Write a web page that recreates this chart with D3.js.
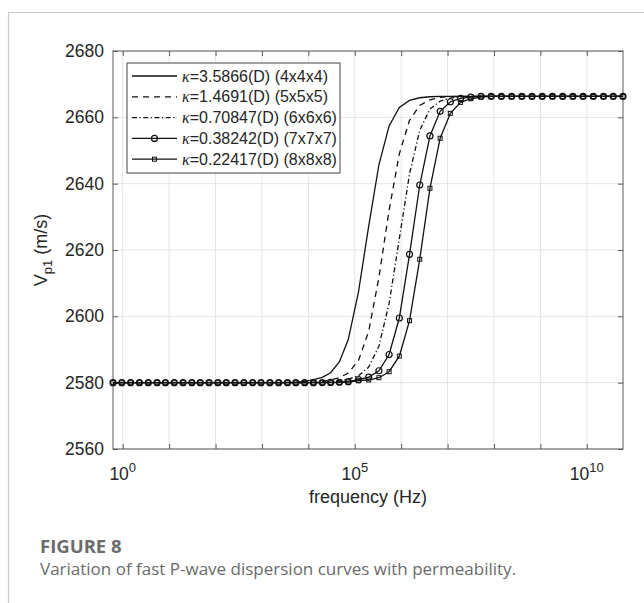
<!DOCTYPE html>
<html><head><meta charset="utf-8">
<script src="https://cdn.jsdelivr.net/npm/d3@7/dist/d3.min.js"></script>
<style>body{margin:0;background:#fff}svg{display:block}</style></head>
<body><svg id="c" width="644" height="603"></svg>
<script>
// ---- data (log10 of frequency in Hz) ----
const logFreq = [-0.21,-0.02,0.17,0.36,0.55,0.74,0.92,1.11,1.30,1.49,
  1.67,1.86,2.05,2.23,2.42,2.61,2.80,2.98,3.17,3.36,
  3.55,3.73,3.92,4.11,4.30,4.48,4.67,4.86,5.08,5.30,
  5.52,5.74,5.96,6.18,6.40,6.62,6.84,7.06,7.28,7.50,
  7.72,7.94,8.16,8.38,8.60,8.82,9.04,9.26,9.48,9.70,
  9.92,10.14,10.36,10.57,10.78];

const kappaLabels = ["3.5866(D) (4x4x4)","1.4691(D) (5x5x5)","0.70847(D) (6x6x6)","0.38242(D) (7x7x7)","0.22417(D) (8x8x8)"];

const vp_k1 = [2580,2580,2580,2580,2580,2580,2580,2580,2580,2580,
  2580,2580,2580,2580,2580,2580,2580,2580,2580,
  2580.03,2580.07,2580.15,2580.4,2580.9,2581.6,2583.0,2586.3,2593.0,2607.4,
  2627.2,2645.7,2657.4,2663.0,2665.1,2665.9,2666.2,
  2666.3,2666.3,2666.3,2666.3,2666.3,2666.3,2666.3,2666.3,2666.3,2666.3,
  2666.3,2666.3,2666.3,2666.3,2666.3,2666.3,2666.3,2666.3,2666.3];

const vp_k2 = [2580,2580,2580,2580,2580,2580,2580,2580,2580,2580,
  2580,2580,2580,2580,2580,2580,2580,2580,2580,2580,
  2580,
  2580.03,2580.07,2580.15,2580.35,2580.85,2581.5,2582.9,2586.7,2595.5,2611.7,
  2632.0,2649.0,2659.1,2663.6,2665.3,2666.0,2666.25,
  2666.3,2666.3,2666.3,2666.3,2666.3,2666.3,2666.3,2666.3,2666.3,2666.3,
  2666.3,2666.3,2666.3,2666.3,2666.3,2666.3,2666.3];

const vp_k3 = [2580,2580,2580,2580,2580,2580,2580,2580,2580,2580,
  2580,2580,2580,2580,2580,2580,2580,2580,2580,2580,
  2580,2580,2580,
  2580.04,2580.08,2580.2,2580.5,2581.1,2582.1,2584.7,2591.0,2603.9,2623.4,
  2643.0,2656.1,2662.5,2664.9,2665.8,2666.15,
  2666.3,2666.3,2666.3,2666.3,2666.3,2666.3,2666.3,2666.3,2666.3,2666.3,
  2666.3,2666.3,2666.3,2666.3,2666.3,2666.3];

const vp_k4 = [2580,2580,2580,2580,2580,2580,2580,2580,2580,2580,
  2580,2580,2580,2580,2580,2580,2580,2580,2580,2580,
  2580,2580,2580,2580,
  2580.02,2580.06,2580.12,2580.3,2580.9,2581.7,2583.6,2588.5,2599.5,2618.7,
  2639.6,2654.4,2661.8,2664.7,2665.7,2666.1,
  2666.3,2666.3,2666.3,2666.3,2666.3,2666.3,2666.3,2666.3,2666.3,2666.3,
  2666.3,2666.3,2666.3,2666.3,2666.3];

const vp_k5 = [2580,2580,2580,2580,2580,2580,2580,2580,2580,2580,
  2580,2580,2580,2580,2580,2580,2580,2580,2580,2580,
  2580,2580,2580,2580,2580,2580,
  2580.05,2580.2,2580.6,2580.8,2581.5,2583.3,2588.0,2598.7,2617.2,2638.6,
  2653.7,2661.2,2664.5,2665.6,2666.1,
  2666.3,2666.3,2666.3,2666.3,2666.3,2666.3,2666.3,2666.3,2666.3,2666.3,
  2666.3,2666.3,2666.3,2666.3];

const yTicks = [2560,2580,2600,2620,2640,2660,2680];
const xDecades = [0,1,2,3,4,5,6,7,8,9,10];
const xLabelDecades = [0,5,10];

// ---- styles per series ----
const seriesVals = [vp_k1, vp_k2, vp_k3, vp_k4, vp_k5];
const styles = [
  {dash:null, marker:null},
  {dash:"6,5", marker:null},
  {dash:"5,2.5,1.2,2.5", marker:null},
  {dash:null, marker:"circle"},
  {dash:null, marker:"square"}
];

const svg = d3.select("#c");
const axisColor = "#5a5a5a", textColor = "#262626", gridColor = "#e4e4e4";
const font = "'Liberation Sans', Arial, sans-serif";

// outer panel frame
svg.append("path").attr("d","M8.5,603 V12.5 H644").attr("fill","none").attr("stroke","#c8c8c8").attr("stroke-width",1.2);

const L=113, R=623, T=51, B=449;
const x = d3.scaleLog().domain([Math.pow(10,logFreq[0]), Math.pow(10,logFreq[logFreq.length-1])]).range([L,R]);
const y = d3.scaleLinear().domain([2560,2680]).range([B,T]);

// grid
const grid = svg.append("g");
grid.selectAll(".gx").data(xDecades).join("line")
  .attr("x1",d=>x(Math.pow(10,d))).attr("x2",d=>x(Math.pow(10,d)))
  .attr("y1",T).attr("y2",B).attr("stroke",gridColor).attr("stroke-width",1);
grid.selectAll(".gy").data(yTicks).join("line")
  .attr("x1",L).attr("x2",R).attr("y1",d=>y(d)).attr("y2",d=>y(d))
  .attr("stroke",gridColor).attr("stroke-width",1);

// axes
const xv = xDecades.map(d=>Math.pow(10,d));
const gB = svg.append("g").attr("transform",`translate(0,${B})`)
  .call(d3.axisBottom(x).tickValues(xv).tickSizeInner(-5).tickSizeOuter(0).tickFormat(""));
const gT = svg.append("g").attr("transform",`translate(0,${T})`)
  .call(d3.axisTop(x).tickValues(xv).tickSizeInner(-5).tickSizeOuter(0).tickFormat(""));
const gL = svg.append("g").attr("transform",`translate(${L},0)`)
  .call(d3.axisLeft(y).tickValues(yTicks).tickSizeInner(-5).tickSizeOuter(0).tickPadding(9).tickFormat(d3.format("d")));
const gR = svg.append("g").attr("transform",`translate(${R},0)`)
  .call(d3.axisRight(y).tickValues(yTicks).tickSizeInner(-5).tickSizeOuter(0).tickFormat(""));
[gB,gT,gL,gR].forEach(g=>{
  g.select(".domain").remove();
  g.selectAll(".tick line").attr("stroke",axisColor);
});
gL.selectAll(".tick text").attr("fill",textColor).style("font-family",font).style("font-size","17.5px");

svg.append("rect").attr("x",L).attr("y",T).attr("width",R-L).attr("height",B-T)
  .attr("fill","none").attr("stroke",axisColor).attr("stroke-width",1);

// x tick labels with superscripts
const xl = svg.append("g").style("font-family",font).attr("fill",textColor);
xLabelDecades.forEach(d=>{
  const t = xl.append("text").attr("x",x(Math.pow(10,d))).attr("y",480)
    .attr("text-anchor","middle").style("font-size","17.5px");
  t.append("tspan").text("10");
  t.append("tspan").attr("dy",-8.5).style("font-size","13px").text(String(d));
});

// axis labels
svg.append("text").attr("x",(L+R)/2).attr("y",503).attr("text-anchor","middle")
  .style("font-family",font).style("font-size","18px").attr("fill",textColor).text("frequency (Hz)");
const yl = svg.append("text").attr("transform",`translate(47,${(T+B)/2}) rotate(-90)`)
  .attr("text-anchor","middle").style("font-family",font).style("font-size","18px").attr("fill",textColor);
yl.append("tspan").text("V");
yl.append("tspan").attr("dy",5).style("font-size","13px").text("p1");
yl.append("tspan").attr("dy",-5).text(" (m/s)");

// series
const line = d3.line().x(d=>x(Math.pow(10,d[0]))).y(d=>y(d[1]));
const plot = svg.append("g");
seriesVals.forEach((vals,i)=>{
  const pts = logFreq.map((f,j)=>[f, vals[j]]).filter(p=>p[1]!==undefined);
  const st = styles[i];
  plot.append("path").datum(pts).attr("d",line).attr("fill","none")
    .attr("stroke","#111").attr("stroke-width",1.3)
    .attr("stroke-dasharray",st.dash);
  if(st.marker==="circle"){
    plot.append("g").selectAll("circle").data(pts).join("circle")
      .attr("cx",d=>x(Math.pow(10,d[0]))).attr("cy",d=>y(d[1])).attr("r",3)
      .attr("fill","none").attr("stroke","#111").attr("stroke-width",1.2);
  } else if(st.marker==="square"){
    plot.append("g").selectAll("rect").data(pts).join("rect")
      .attr("x",d=>x(Math.pow(10,d[0]))-2).attr("y",d=>y(d[1])-2).attr("width",4).attr("height",4)
      .attr("fill","none").attr("stroke","#111").attr("stroke-width",1);
  }
});

// legend
const lg = svg.append("g");
lg.append("rect").attr("x",127).attr("y",63).attr("width",213).attr("height",110)
  .attr("fill","#fff").attr("stroke","#444").attr("stroke-width",1);
kappaLabels.forEach((lab,i)=>{
  const cy = 76 + i*20.8;
  const st = styles[i];
  lg.append("line").attr("x1",132).attr("x2",177).attr("y1",cy).attr("y2",cy)
    .attr("stroke","#111").attr("stroke-width",1.3).attr("stroke-dasharray",st.dash);
  if(st.marker==="circle") lg.append("circle").attr("cx",154.5).attr("cy",cy).attr("r",3)
    .attr("fill","none").attr("stroke","#111").attr("stroke-width",1.2);
  if(st.marker==="square") lg.append("rect").attr("x",152.5).attr("y",cy-2).attr("width",4).attr("height",4)
    .attr("fill","none").attr("stroke","#111").attr("stroke-width",1);
  const t = lg.append("text").attr("x",182).attr("y",cy+5.5).style("font-family",font)
    .style("font-size","16px").attr("fill",textColor);
  t.append("tspan").style("font-style","italic").style("font-family","'Liberation Serif','DejaVu Serif',serif").text("κ");
  t.append("tspan").text("=" + lab);
});

// caption
svg.append("text").attr("x",40).attr("y",553).style("font-family","'Open Sans','Noto Sans',sans-serif")
  .style("font-weight","700").style("font-size","18.5px").attr("fill","#6b6b6b").text("FIGURE 8");
svg.append("text").attr("x",40).attr("y",575).style("font-family","'Open Sans','Noto Sans',sans-serif")
  .style("font-size","17px").attr("fill","#6b6b6b").text("Variation of fast P-wave dispersion curves with permeability.");
</script></body></html>
